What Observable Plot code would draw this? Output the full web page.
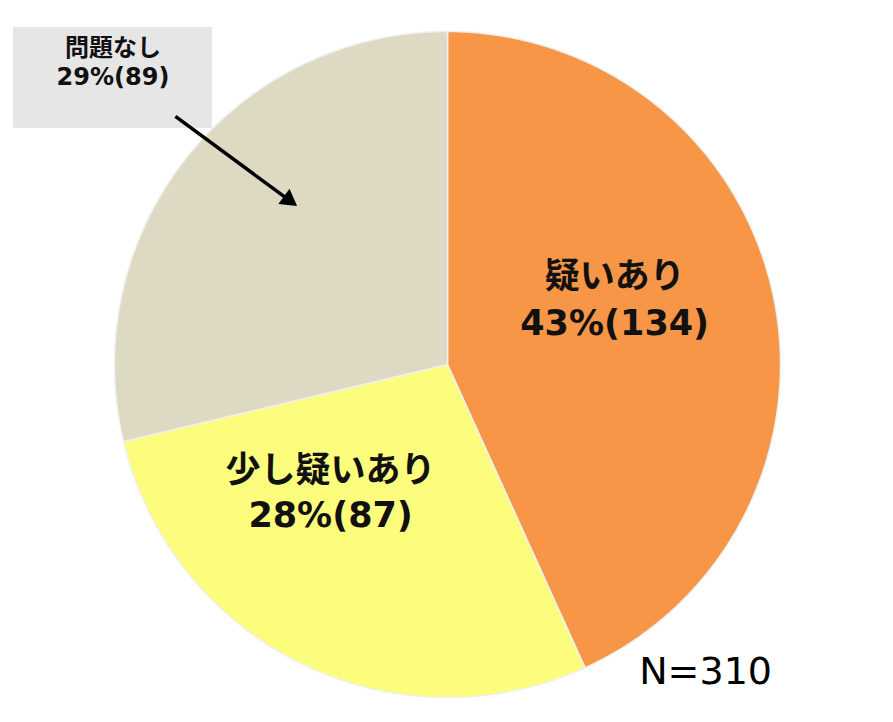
<!DOCTYPE html>
<html>
<head>
<meta charset="utf-8">
<script src="https://cdn.jsdelivr.net/npm/d3@7"></script>
<script src="https://cdn.jsdelivr.net/npm/@observablehq/plot@0.6"></script>
<style>
  html, body { margin: 0; padding: 0; background: #fff; }
</style>
</head>
<body>
<div id="chart"></div>
<script>
const categories = ["疑いあり", "少し疑いあり", "問題なし"];
const counts = [134, 87, 89];
const percents = ["43%", "28%", "29%"];
const colors = ["#F79646", "#FDFD7D", "#DDD9C3"];
const total = 310;

const slices = categories.map((c, i) => ({key: c, value: counts[i]}));
const arcs = d3.pie().sort(null).value(d => d.value)(slices);

// polygon vertices for each slice in unit-circle data space
const pts = [];
for (const a of arcs) {
  const k = a.data.key;
  pts.push({key: k, x: 0, y: 0});
  const n = Math.max(2, Math.ceil((a.endAngle - a.startAngle) / (Math.PI / 360)));
  for (let j = 0; j <= n; j++) {
    const t = a.startAngle + (a.endAngle - a.startAngle) * j / n;
    pts.push({key: k, x: Math.sin(t), y: Math.cos(t)});
  }
  pts.push({key: k, x: 0, y: 0});
}

const label = i => `${categories[i]}\n${percents[i]}(${counts[i]})`;

const font = '"DejaVu Sans", "Noto Sans CJK JP", sans-serif';

const chart = Plot.plot({
  width: 893,
  height: 722,
  margin: 0,
  x: {domain: [-1, 1], range: [114, 780], axis: null},
  y: {domain: [-1, 1], range: [697, 31], axis: null},
  color: {domain: categories, range: colors},
  style: {fontFamily: font, background: "#fff"},
  marks: [
    Plot.line(pts, {x: "x", y: "y", z: "key", fill: "key", stroke: "#f0f0f0", strokeWidth: 1.5, curve: "linear", strokeLinejoin: "round"}),
    Plot.rect([0], {x1: -1.303, x2: -0.706, y1: 0.709, y2: 1.012, fill: "#E6E6E6"}),
    Plot.text([label(0)], {x: 0.502, y: 0.204, text: d => d, fontSize: 35, fontWeight: "bold", lineHeight: 1.33, fill: "#111"}),
    Plot.text([label(1)], {x: -0.351, y: -0.378, text: d => d, fontSize: 35, fontWeight: "bold", lineHeight: 1.26, fill: "#111"}),
    Plot.text([label(2)], {x: -1.0045, y: 0.910, text: d => d, fontSize: 24, fontWeight: "bold", lineHeight: 1.2, fill: "#111"}),
    Plot.link([0], {x1: -0.817, y1: 0.745, x2: -0.490, y2: 0.504, stroke: "#000", strokeWidth: 3.5}),
    Plot.dot([0], {x: -0.478, y: 0.495, symbol: "triangle", r: 7, fill: "#000", stroke: "none", rotate: 126.4}),
    Plot.text([`N=${total}`], {x: 0.775, y: -0.922, text: d => d, fontSize: 38, fill: "#000"})
  ]
});
document.getElementById("chart").appendChild(chart);
</script>
</body>
</html>
